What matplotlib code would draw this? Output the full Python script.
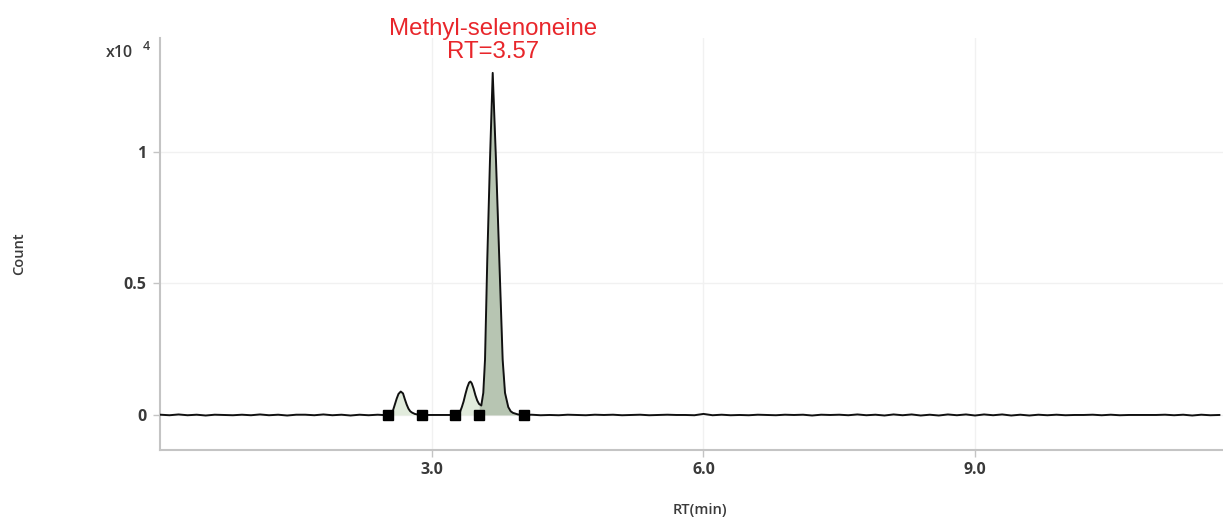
import numpy as np
import matplotlib.pyplot as plt
from matplotlib.transforms import blended_transform_factory

# Extracted ion chromatogram, counts in units of 1e4
# baseline before the first peak (0.0 .. 2.5 min, 0.1 min steps)
rt_pre = [0.0, 0.1, 0.2, 0.3, 0.4, 0.5, 0.6, 0.7, 0.8, 0.9, 1.0, 1.1, 1.2,
          1.3, 1.4, 1.5, 1.6, 1.7, 1.8, 1.9, 2.0, 2.1, 2.2, 2.3, 2.4, 2.5]
cnt_pre = [0.001, -0.001, 0.002, -0.001, 0.001, -0.002, 0.001, 0.000, -0.001,
           0.001, -0.001, 0.002, -0.001, 0.001, -0.002, 0.001, 0.001, -0.001,
           0.002, -0.001, 0.001, -0.002, 0.001, -0.001, 0.001, -0.001]

# first small peak
rt_p1 = [2.52, 2.55, 2.57, 2.59, 2.61, 2.63, 2.655, 2.68, 2.70, 2.72, 2.74,
         2.76, 2.78, 2.81, 2.85, 2.886]
cnt_p1 = [0.000, 0.003, 0.018, 0.040, 0.062, 0.080, 0.089, 0.082, 0.060,
          0.040, 0.024, 0.014, 0.009, 0.004, 0.001, 0.000]

# flat stretch between the integrated peaks
rt_gap = [2.95, 3.05, 3.15]
cnt_gap = [0.000, 0.000, 0.000]

# second small peak (shoulder before the main peak)
rt_p2 = [3.25, 3.29, 3.31, 3.33, 3.35, 3.37, 3.39, 3.41, 3.425, 3.44, 3.46,
         3.48, 3.50, 3.52]
cnt_p2 = [0.000, 0.003, 0.012, 0.030, 0.052, 0.080, 0.105, 0.123, 0.127,
          0.120, 0.100, 0.075, 0.055, 0.042]

# main peak, methyl-selenoneine
rt_main = [3.545, 3.567, 3.586, 3.611, 3.641, 3.671, 3.707, 3.744, 3.781,
           3.807, 3.843, 3.87, 3.895, 3.95, 4.02]
cnt_main = [0.036, 0.084, 0.210, 0.590, 0.970, 1.300, 0.970, 0.590, 0.210,
            0.084, 0.030, 0.014, 0.008, 0.002, 0.000]

# baseline after the main peak (4.1 .. 11.7 min, 0.1 min steps)
rt_post = [4.1, 4.2, 4.3, 4.4, 4.5, 4.6, 4.7, 4.8, 4.9, 5.0, 5.1, 5.2, 5.3,
           5.4, 5.5, 5.6, 5.7, 5.8, 5.9, 6.0, 6.1, 6.2, 6.3, 6.4, 6.5, 6.6,
           6.7, 6.8, 6.9, 7.0, 7.1, 7.2, 7.3, 7.4, 7.5, 7.6, 7.7, 7.8, 7.9,
           8.0, 8.1, 8.2, 8.3, 8.4, 8.5, 8.6, 8.7, 8.8, 8.9, 9.0, 9.1, 9.2,
           9.3, 9.4, 9.5, 9.6, 9.7, 9.8, 9.9, 10.0, 10.1, 10.2, 10.3, 10.4,
           10.5, 10.6, 10.7, 10.8, 10.9, 11.0, 11.1, 11.2, 11.3, 11.4, 11.5,
           11.6, 11.7]
cnt_post = [0.001, -0.001, 0.000, -0.001, 0.001, 0.000, -0.001, 0.001,
            0.000, 0.001, -0.001, 0.000, 0.001, -0.001, 0.000, 0.001,
            0.000, 0.000, -0.001, 0.004, -0.001, 0.001, -0.001, 0.000,
            -0.001, 0.001, 0.000, -0.001, 0.001, 0.000, 0.001, -0.002,
            0.001, 0.000, 0.001, -0.001, 0.002, -0.001, 0.001, -0.002,
            0.002, -0.001, 0.002, -0.002, 0.001, -0.002, 0.002, -0.001,
            0.002, -0.002, 0.002, -0.001, 0.002, -0.002, 0.001, -0.002,
            0.001, -0.001, 0.001, -0.001, 0.000, 0.000, 0.001, -0.001,
            0.001, -0.001, 0.000, 0.000, 0.000, 0.000, 0.001, -0.001,
            0.001, -0.002, 0.001, -0.001, 0.000]

# integration boundaries (black squares on the baseline)
boundaries = [2.517, 2.886, 3.25, 3.52, 4.02]

peak_name = "Methyl-selenoneine"
peak_rt = 3.57

x_ticks = [3.0, 6.0, 9.0]
y_ticks = [0, 0.5, 1]
y_tick_labels = ["0", "0.5", "1"]

rt = np.array(rt_pre + rt_p1 + rt_gap + rt_p2 + rt_main + rt_post)
cnt = np.array(cnt_pre + cnt_p1 + cnt_gap + cnt_p2 + cnt_main + cnt_post)

plt.rcParams["font.family"] = ["Open Sans", "DejaVu Sans"]
tick_color = "#3a3a3a"
spine_color = "#c4c4c4"

fig = plt.figure(figsize=(12.23, 5.19), dpi=100)
ax = fig.add_axes([0.1312, 0.133, 0.8688, 0.794])

# shaded integration areas
light_fill = "#e1ebdc"
dark_fill = "#b7c5b2"
spans = [(boundaries[0], boundaries[1], light_fill),
         (boundaries[2], boundaries[3], light_fill),
         (boundaries[3], boundaries[4], dark_fill)]
for lo, hi, col in spans:
    m = (rt >= lo - 1e-9) & (rt <= hi + 1e-9)
    ax.fill_between(rt[m], 0, cnt[m], color=col, linewidth=0, zorder=2)

ax.plot(rt, cnt, color="#111111", linewidth=1.4, zorder=3)
ax.plot(boundaries, [0] * len(boundaries), linestyle="none", marker="s",
        markersize=7, color="black", zorder=4)

ax.set_xlim(0, 11.74)
ax.set_ylim(-0.133, 1.433)
ax.set_xticks(x_ticks)
ax.set_xticklabels([f"{v:.1f}" for v in x_ticks])
ax.set_yticks(y_ticks)
ax.set_yticklabels(y_tick_labels)

ax.grid(True, color="#f1f1f1", linewidth=1.0, zorder=0)
ax.set_axisbelow(True)
for side in ("top", "right"):
    ax.spines[side].set_visible(False)
for side in ("left", "bottom"):
    ax.spines[side].set_color(spine_color)
    ax.spines[side].set_linewidth(1.5)
ax.tick_params(axis="both", colors=spine_color, length=5, width=1,
               labelcolor=tick_color, labelsize=11.5)
ax.tick_params(axis="x", pad=4)
ax.tick_params(axis="y", pad=5)
for lab in ax.get_xticklabels() + ax.get_yticklabels():
    lab.set_fontweight("bold")

# axis titles
fig.text(0.572, 0.0175, "RT(min)", fontsize=10.5, color=tick_color,
         fontweight="semibold", ha="center", va="center")
fig.text(0.0155, 0.512, "Count", rotation=90, fontsize=10.5, color=tick_color,
         fontweight="semibold", ha="center", va="center")

# exponent marker for the y axis
fig.text(0.0975, 0.897, "x10", fontsize=11.5, color=tick_color,
         fontweight="semibold", ha="center", va="center")
fig.text(0.1195, 0.91, "4", fontsize=9, color=tick_color,
         fontweight="semibold", ha="center", va="center")

# compound label above the main peak
apex_rt = rt[np.argmax(cnt)]
trans = blended_transform_factory(ax.transData, fig.transFigure)
ax.text(apex_rt, 0.945, peak_name, transform=trans, ha="center", va="center",
        fontsize=17.3, color="#e8262b", family="Liberation Sans", clip_on=False)
ax.text(apex_rt, 0.9, f"RT={peak_rt:.2f}", transform=trans, ha="center",
        va="center", fontsize=17.3, color="#e8262b", family="Liberation Sans",
        clip_on=False)

fig.savefig("out.png", dpi=100)
